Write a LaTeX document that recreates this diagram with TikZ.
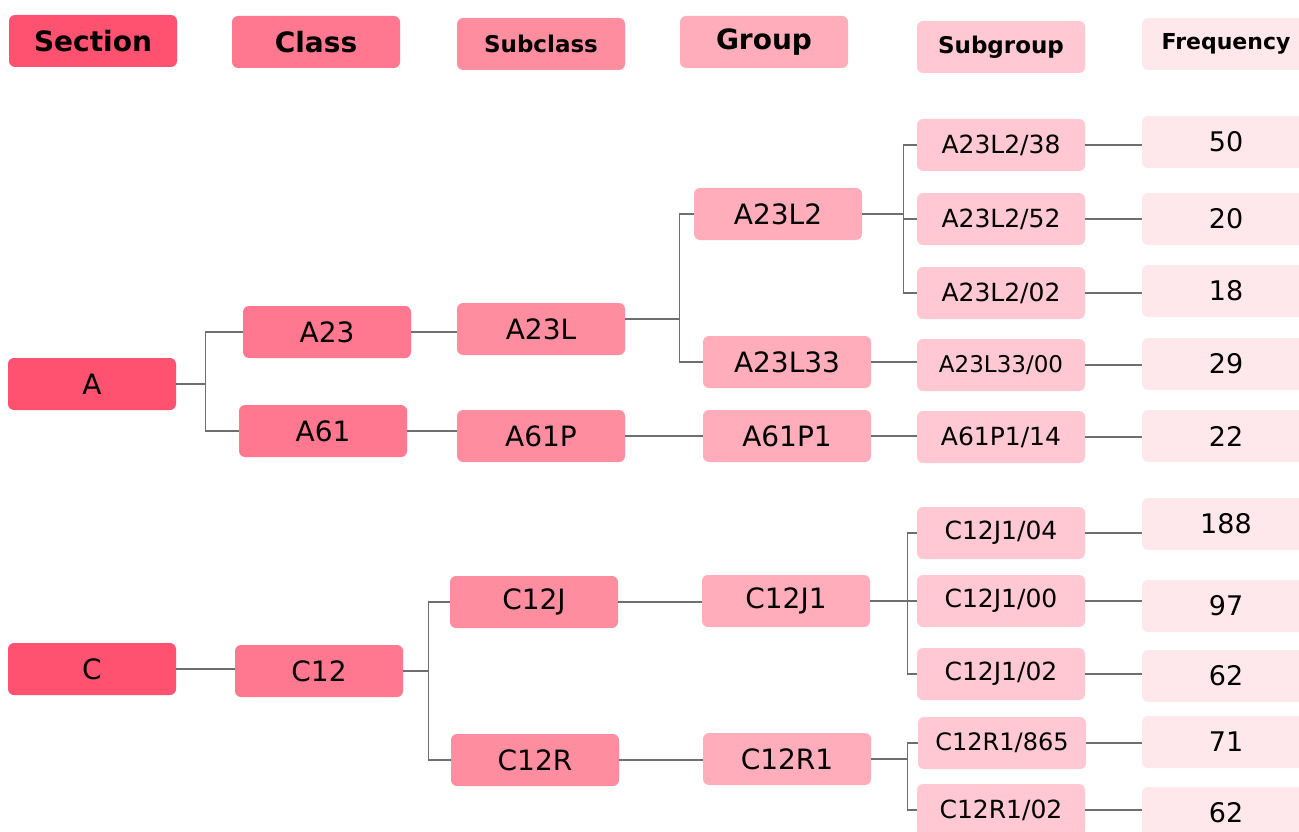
\documentclass[tikz,border=0pt]{standalone}
\usepackage{fontspec}
\setmainfont{DejaVu Sans}
\usepackage{tikz}
\usetikzlibrary{positioning}

\definecolor{secRed}{RGB}{255,82,112}
\definecolor{clsRed}{RGB}{255,120,143}
\definecolor{subRed}{RGB}{255,141,160}
\definecolor{grpPink}{RGB}{255,173,187}
\definecolor{sgrpPink}{RGB}{255,200,210}
\definecolor{freqPink}{RGB}{255,232,236}
\definecolor{linkGray}{RGB}{110,110,110}

\tikzset{
    box/.style={rounded corners=6pt, minimum width=168pt, minimum height=52pt, inner sep=0pt, font=\fontsize{28}{32}\selectfont},
    head/.style={box, font=\bfseries\fontsize{28}{32}\selectfont},
    smallhead/.style={box, font=\bfseries\fontsize{23}{27}\selectfont},
    sec/.style={fill=secRed},
    cls/.style={fill=clsRed},
    sub/.style={fill=subRed},
    grp/.style={fill=grpPink},
    sgrp/.style={box, fill=sgrpPink, font=\fontsize{25}{29}\selectfont},
    freq/.style={box, fill=freqPink, font=\fontsize{27}{30}\selectfont},
    link/.style={draw=linkGray, line width=1.3pt}
}

\begin{document}
\begin{tikzpicture}[x=1pt, y=-1pt]
        \useasboundingbox (0,0) rectangle (1299,832);

        \node[head, sec] (hSec) at (93,41) {Section};
        \node[head, cls] (hCls) at (316,42) {Class};
        \node[smallhead, sub] (hSub) at (541,44) {Subclass};
        \node[head, grp] (hGrp) at (764,42) {Group};
        \node[smallhead, fill=sgrpPink] (hSgrp) at (1001,47) {Subgroup};
        \node[box, fill=freqPink, font=\bfseries\fontsize{22}{26}\selectfont] (hFreq) at (1226,44) {Frequency};

        \node[box, sec] (A) at (92,384) {A};
        \node[box, sec] (C) at (92,669) {C};

        \node[box, cls] (A23) at (327,332) {A23};
        \node[box, cls] (A61) at (323,431) {A61};
        \node[box, cls] (C12) at (319,671) {C12};

        \node[box, sub] (A23L) at (541,329) {A23L};
        \node[box, sub] (A61P) at (541,436) {A61P};
        \node[box, sub] (C12J) at (534,602) {C12J};
        \node[box, sub] (C12R) at (535,760) {C12R};

        \node[box, grp] (A23L2) at (778,214) {A23L2};
        \node[box, grp] (A23L33) at (787,362) {A23L33};
        \node[box, grp] (A61P1) at (787,436) {A61P1};
        \node[box, grp] (C12J1) at (786,601) {C12J1};
        \node[box, grp] (C12R1) at (787,759) {C12R1};

        \node[sgrp] (sA23L2a) at (1001,145) {A23L2/38};
        \node[sgrp] (sA23L2b) at (1001,219) {A23L2/52};
        \node[sgrp] (sA23L2c) at (1001,293) {A23L2/02};
        \node[sgrp, font=\fontsize{23}{27}\selectfont] (sA23L33) at (1001,365) {A23L33/00};
        \node[sgrp] (sA61P1) at (1001,437) {A61P1/14};
        \node[sgrp] (sC12J1a) at (1001,533) {C12J1/04};
        \node[sgrp] (sC12J1b) at (1001,601) {C12J1/00};
        \node[sgrp] (sC12J1c) at (1001,674) {C12J1/02};
        \node[sgrp, font=\fontsize{24}{28}\selectfont] (sC12R1a) at (1002,743) {C12R1/865};
        \node[sgrp] (sC12R1b) at (1001,810) {C12R1/02};

        \node[freq] (f50) at (1226,142) {50};
        \node[freq] (f20) at (1226,219) {20};
        \node[freq] (f18) at (1226,291) {18};
        \node[freq] (f29) at (1226,364) {29};
        \node[freq] (f22) at (1226,436) {22};
        \node[freq] (f188) at (1226,524) {188};
        \node[freq] (f97) at (1226,606) {97};
        \node[freq] (f62a) at (1226,676) {62};
        \node[freq] (f71) at (1226,742) {71};
        \node[freq] (f62b) at (1226,813) {62};

        \draw [link] (A.east) -- +(29,0) |- (A23.west);
        \draw [link] (A.east) -- +(29,0) |- (A61.west);
        \draw [link] (A23.east) -- (A23.east -| A23L.west);
        \draw [link] (A61.east) -- (A61.east -| A61P.west);

        \draw [link] ([yshift=10pt]A23L.east) -- +(54,0) |- (A23L2.west);
        \draw [link] ([yshift=10pt]A23L.east) -- +(54,0) |- (A23L33.west);
        \draw [link] (A61P.east) -- (A61P1.west);

        \draw [link] (A23L2.east) -- +(41,0) |- (sA23L2a.west);
        \draw [link] (A23L2.east) -- +(41,0) |- (sA23L2b.west);
        \draw [link] (A23L2.east) -- +(41,0) |- (sA23L2c.west);
        \draw [link] (A23L33.east) -- (A23L33.east -| sA23L33.west);
        \draw [link] (A61P1.east) -- (A61P1.east -| sA61P1.west);

        \draw [link] (C.east) -- (C.east -| C12.west);
        \draw [link] (C12.east) -- +(25,0) |- (C12J.west);
        \draw [link] (C12.east) -- +(25,0) |- (C12R.west);
        \draw [link] (C12J.east) -- (C12J.east -| C12J1.west);
        \draw [link] (C12R.east) -- (C12R.east -| C12R1.west);

        \draw [link] (C12J1.east) -- +(37,0) |- (sC12J1a.west);
        \draw [link] (C12J1.east) -- +(37,0) |- (sC12J1b.west);
        \draw [link] (C12J1.east) -- +(37,0) |- (sC12J1c.west);
        \draw [link] (C12R1.east) -- +(36,0) |- (sC12R1a.west);
        \draw [link] (C12R1.east) -- +(36,0) |- (sC12R1b.west);

        \draw [link] (sA23L2a.east) -- (sA23L2a.east -| f50.west);
        \draw [link] (sA23L2b.east) -- (sA23L2b.east -| f20.west);
        \draw [link] (sA23L2c.east) -- (sA23L2c.east -| f18.west);
        \draw [link] (sA23L33.east) -- (sA23L33.east -| f29.west);
        \draw [link] (sA61P1.east) -- (sA61P1.east -| f22.west);
        \draw [link] (sC12J1a.east) -- (sC12J1a.east -| f188.west);
        \draw [link] (sC12J1b.east) -- (sC12J1b.east -| f97.west);
        \draw [link] (sC12J1c.east) -- (sC12J1c.east -| f62a.west);
        \draw [link] (sC12R1a.east) -- (sC12R1a.east -| f71.west);
        \draw [link] (sC12R1b.east) -- (sC12R1b.east -| f62b.west);
    \end{tikzpicture}
\end{document}
